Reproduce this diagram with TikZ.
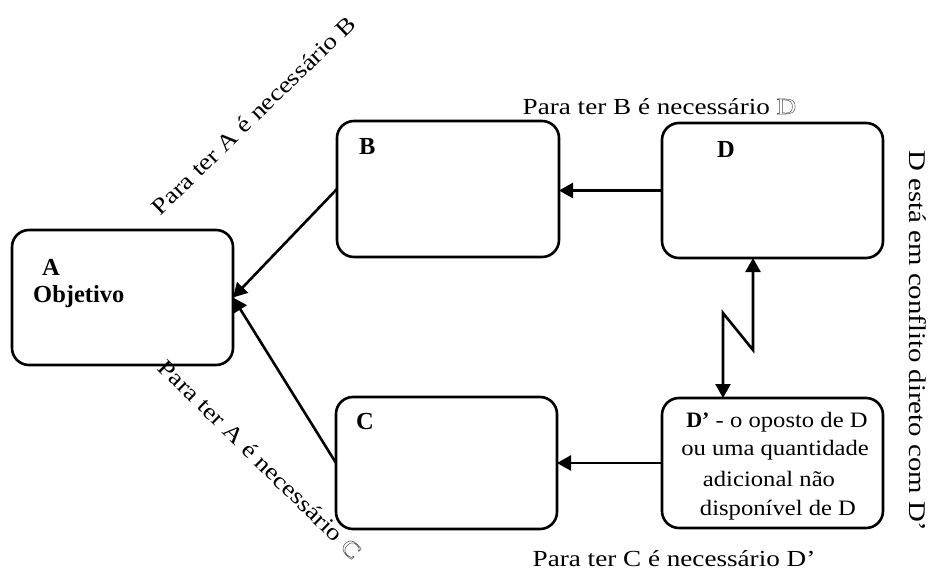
\documentclass[tikz,border=0pt]{standalone}
\usepackage{fontspec}
\setmainfont{Liberation Serif}
\newfontfamily\lblfont[FakeStretch=1.18]{Liberation Serif}
\newfontfamily\inboxfont[FakeStretch=1.12]{Liberation Serif}
\newfontfamily\sidefont[FakeStretch=1.2]{Liberation Serif}
\usetikzlibrary{arrows.meta}

% outlined (stroked, unfilled) glyphs
\newcommand\hollowglyph[1]{\special{pdf:literal direct 1 Tr}#1\special{pdf:literal direct 0 Tr}}

\begin{document}
\begin{tikzpicture}[x=1pt,y=-1pt,
  box/.style={draw, line width=2.6pt, rounded corners=17pt,
    inner sep=0pt, outer sep=0pt},
  conn/.style={line width=2.6pt, -{Triangle[length=14pt,width=15pt]}},
  biconn/.style={line width=2.6pt,
    {Triangle[length=14pt,width=15pt]}-{Triangle[length=14pt,width=15pt]}},
  tag/.style={font=\bfseries\fontsize{24.5}{28}\selectfont, inner sep=0pt, anchor=base west},
  lbl/.style={font=\lblfont\fontsize{23}{27}\selectfont, inner sep=0pt, anchor=base, line width=0.5pt},
  inbox/.style={font=\inboxfont\fontsize{22}{26}\selectfont, inner sep=0pt, anchor=base}]

\useasboundingbox (0,0) rectangle (938,570);

% boxes
\node[box, minimum width=221pt, minimum height=135pt] (A)  at (122.5,297.5) {};
\node[box, minimum width=222pt, minimum height=136pt] (B)  at (448,189) {};
\node[box, minimum width=221pt, minimum height=135pt] (D)  at (772.5,190.5) {};
\node[box, minimum width=221pt, minimum height=132pt] (C)  at (446.5,463) {};
\node[box, minimum width=221pt, minimum height=130pt] (Dp) at (772.5,463) {};

% box titles
\node[tag] (tA) at (42,275) {A};
\node[tag] (tObj) at (33,302) {Objetivo};
\node[tag] (tB) at (359,154) {B};
\node[tag] (tD) at (717,157) {D};
\node[tag] (tC) at (356,429) {C};

% text of D'
\node[inbox] (dp1) at (777,427) {\textbf{\rmfamily D’} - o oposto de D};
\node[inbox] (dp2) at (775,455) {ou uma quantidade};
\node[inbox] (dp3) at (769,486) {adicional não};
\node[inbox] (dp4) at (778,515) {disponível de D};

% connectors
\draw[conn] (B.west) -- (A.east);
\draw[conn] (C.west) -- (A.east);
\draw[conn] (D.west) -- (D.west -| B.east);
\draw[conn] (Dp.west) -- (Dp.west -| C.east);

% conflict zigzag
\coordinate (z1) at (723,313);
\coordinate (z2) at (753,350);
\draw[biconn] (D.south -| z2) -- (z2) -- (z1) -- (Dp.north -| z1);

% captions
\node[lbl, rotate=44.1] (capAB) at (259,121) {Para ter A é necessário B};
\node[lbl, rotate=-44.4] (capAC) at (254.5,465) {Para ter A é necessário \textcolor{black!70}{\hollowglyph{C}}};
\node[lbl] (capBD) at (659.5,114) {Para ter B é necessário \textcolor{black!70}{\hollowglyph{D}}};
\node[lbl] (capCD) at (674,566) {Para ter C é necessário D’};
\node[lbl, font=\sidefont\fontsize{24}{28}\selectfont, rotate=-90] (capDD) at (909,341) {D está em conflito direto com D’};

\end{tikzpicture}
\end{document}
